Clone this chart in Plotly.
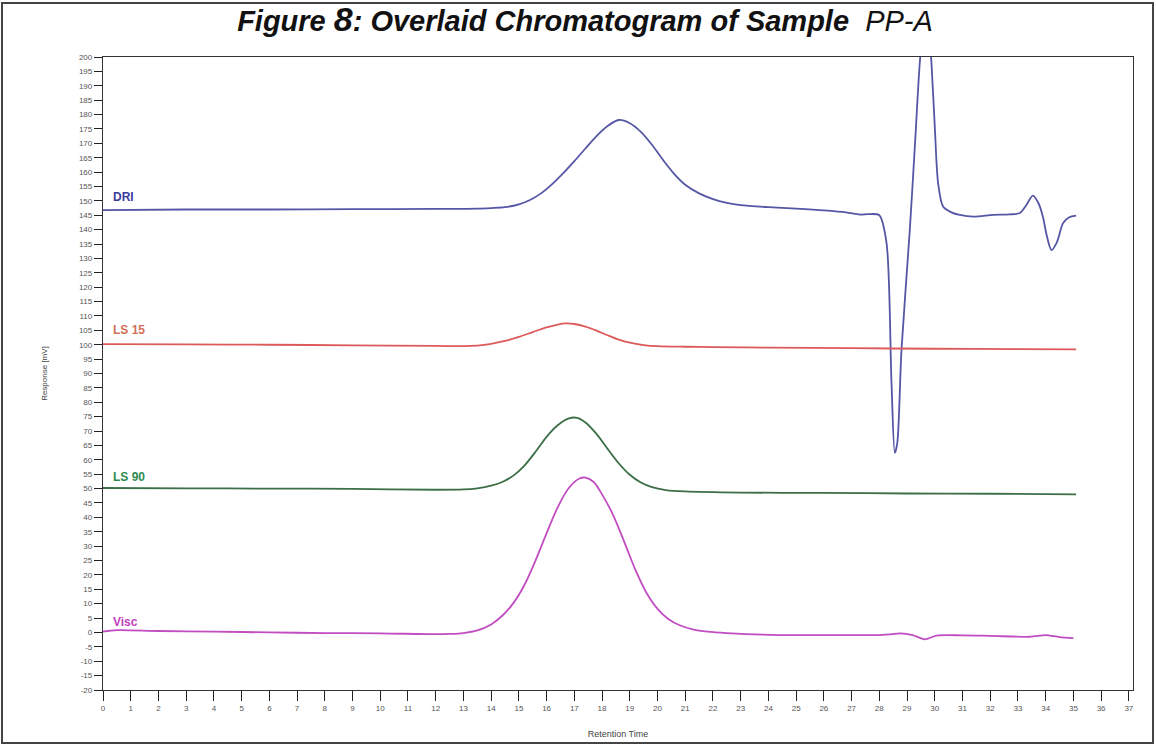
import plotly.graph_objects as go

# ---- data ----
x_dri = [0, 3, 6, 9, 12, 13.5, 14.0, 14.5, 15.0, 15.4, 15.8, 16.2, 16.6, 17.0, 17.4, 17.8,
         18.2, 18.6, 19.0, 19.4, 19.8, 20.2, 20.6, 21.0, 21.5, 22.0, 22.5, 23.0, 24.0, 25.0,
         26.0, 26.8, 27.3, 27.6, 28.0, 28.26, 28.44, 28.56, 28.65, 28.8, 29.1, 29.3, 29.46,
         29.6, 29.7, 29.8, 29.88, 30.0, 30.12, 30.3, 30.6, 30.9, 31.4, 32.1, 32.7, 33.07, 33.3,
         33.54, 33.75, 33.9, 34.05, 34.21, 34.4, 34.63, 34.85, 35.1]
y_dri = [146.8, 147.0, 147.0, 147.1, 147.2, 147.3, 147.5, 147.8, 148.8, 150.3, 152.6, 155.8,
         159.6, 163.8, 168.2, 172.5, 176.0, 178.1, 177.0, 174.0, 169.5, 164.2, 159.4, 155.6,
         152.6, 150.6, 149.3, 148.5, 147.8, 147.3, 146.7, 146.0, 145.2, 145.4, 145.0, 135.4,
         86.7, 62.4, 66.0, 98.2, 139.9, 172.0, 198.0, 212.0, 215.0, 209.0, 198.0, 176.0, 156.2,
         148.0, 146.0, 145.1, 144.5, 145.1, 145.3, 145.8, 148.5, 151.8, 149.0, 144.5, 137.5,
         132.9, 135.5, 142.3, 144.3, 144.9]

x_ls15 = [0, 3, 6, 9, 12, 13.0, 13.5, 14.0, 14.5, 15.0, 15.5, 16.0, 16.4, 16.7, 17.0, 17.4,
          17.8, 18.2, 18.6, 19.0, 19.5, 20.0, 21.0, 22.0, 24.0, 27.0, 30.0, 33.0, 35.1]
y_ls15 = [100.2, 100.1, 100.0, 99.8, 99.6, 99.5, 99.7, 100.3, 101.3, 102.7, 104.4, 106.0,
          107.0, 107.4, 107.2, 106.3, 104.9, 103.3, 101.8, 100.7, 99.9, 99.5, 99.3, 99.2, 99.0,
          98.8, 98.6, 98.5, 98.4]

x_ls90 = [0, 3, 6, 9, 12, 13.0, 13.5, 14.0, 14.4, 14.8, 15.2, 15.6, 16.0, 16.4, 16.8, 17.1,
          17.4, 17.8, 18.2, 18.6, 19.0, 19.4, 19.8, 20.3, 21.0, 23.0, 26.0, 29.0, 32.0, 35.1]
y_ls90 = [50.2, 50.1, 50.0, 49.9, 49.6, 49.7, 50.1, 51.0, 52.3, 54.5, 58.0, 62.8, 68.0, 72.0,
          74.4, 74.6, 73.0, 69.0, 63.8, 58.8, 54.8, 52.1, 50.5, 49.5, 49.0, 48.6, 48.5, 48.3,
          48.2, 48.0]

x_visc = [0, 0.5, 2, 4, 6, 8, 10, 12, 12.5, 13.0, 13.5, 14.0, 14.4, 14.8, 15.2, 15.6, 16.0,
          16.4, 16.8, 17.2, 17.4, 17.7, 18.0, 18.4, 18.8, 19.2, 19.6, 20.0, 20.4, 20.8, 21.3,
          21.8, 22.5, 24.4, 26.0, 28.0, 28.4, 28.75, 29.2, 29.64, 30.06, 31.0, 32.0, 33.4, 33.7,
          34.0, 34.5, 35.0]
y_visc = [0.3, 0.8, 0.5, 0.3, 0.0, -0.2, -0.3, -0.6, -0.5, -0.2, 0.7, 2.8, 5.8, 10.2, 16.5,
          25.0, 34.5, 43.5, 50.2, 53.6, 53.8, 52.3, 48.0, 40.8, 31.5, 21.8, 13.8, 8.2, 4.6, 2.5,
          1.0, 0.3, -0.2, -0.9, -0.9, -0.9, -0.7, -0.3, -0.9, -2.4, -1.1, -1.0, -1.2, -1.5,
          -1.2, -0.9, -1.6, -2.0]

series_names = ["DRI", "LS 15", "LS 90", "Visc"]
series_colors = ["#5656a6", "#dc5a5a", "#3c6e48", "#c24cc2"]
label_colors = ["#3c3c9c", "#d27058", "#2e8a4e", "#c040c0"]
label_y = [151.5, 105.1, 54.0, 3.6]

x_ticks = list(range(0, 38))
y_ticks = list(range(-20, 201, 5))

# ---- figure ----
W, H = 1156, 746
ml, mr, mt, mb = 103, 23, 57, 56
pw, ph = W - ml - mr, H - mt - mb

fig = go.Figure()
for xs, ys, name, col in zip([x_dri, x_ls15, x_ls90, x_visc],
                             [y_dri, y_ls15, y_ls90, y_visc],
                             series_names, series_colors):
    fig.add_trace(go.Scatter(x=xs, y=ys, mode="lines", name=name,
                             line=dict(color=col, width=1.8, shape="spline", smoothing=0.8),
                             showlegend=False, hoverinfo="skip"))

for name, col, ly in zip(series_names, label_colors, label_y):
    fig.add_annotation(x=0.3, y=ly, text="<b>" + name + "</b>", showarrow=False,
                       xanchor="left", yanchor="middle",
                       font=dict(family="Liberation Sans, Arial", size=12, color=col))

# outer frame around whole image
def px_to_paper_x(px):
    return (px - ml) / pw

def px_to_paper_y(py):
    return (H - mb - py) / ph

fig.add_shape(type="rect", xref="paper", yref="paper",
              x0=px_to_paper_x(2), x1=px_to_paper_x(1153),
              y0=px_to_paper_y(743), y1=px_to_paper_y(3),
              line=dict(color="#444444", width=2), layer="below")

fig.update_layout(
    width=W, height=H,
    margin=dict(l=ml, r=mr, t=mt, b=mb, autoexpand=False),
    paper_bgcolor="white", plot_bgcolor="white",
    title=dict(
        text="<b><i>Figure <span style='font-size:34px'>8</span>: Overlaid Chromatogram of Sample</i></b>  <i>PP-A</i>",
        x=585 / W, xanchor="center", y=1 - 21 / H, yanchor="middle",
        xref="container", yref="container",
        font=dict(family="Liberation Sans, Arial", size=29, color="#111111")),
    font=dict(family="Liberation Sans, Arial", color="#444444"),
)

fig.update_xaxes(range=[0, 37.15], tickmode="array", tickvals=x_ticks,
                 ticktext=[str(v) for v in x_ticks],
                 ticks="outside", ticklen=10, tickcolor="#222222", tickwidth=1.2,
                 tickfont=dict(size=8, color="#555555"),
                 showline=True, linecolor="#333333", linewidth=1.3, mirror=True,
                 showgrid=False, zeroline=False, automargin=False,
                 title=dict(text="Retention Time", font=dict(size=9, color="#444444"), standoff=18))
fig.update_yaxes(range=[-20, 200], tickmode="array", tickvals=y_ticks,
                 ticktext=[str(v) for v in y_ticks],
                 ticks="outside", ticklen=8, tickcolor="#222222", tickwidth=1.2,
                 tickfont=dict(size=8, color="#555555"),
                 showline=True, linecolor="#333333", linewidth=1.3, mirror=True,
                 showgrid=False, zeroline=False, automargin=False,
                 title=dict(text="Response [mV]", font=dict(size=8, color="#444444"), standoff=30))

fig.write_html("out.html", config={"displayModeBar": False},
               post_script="document.body.style.margin='0';document.body.style.overflow='hidden';")
